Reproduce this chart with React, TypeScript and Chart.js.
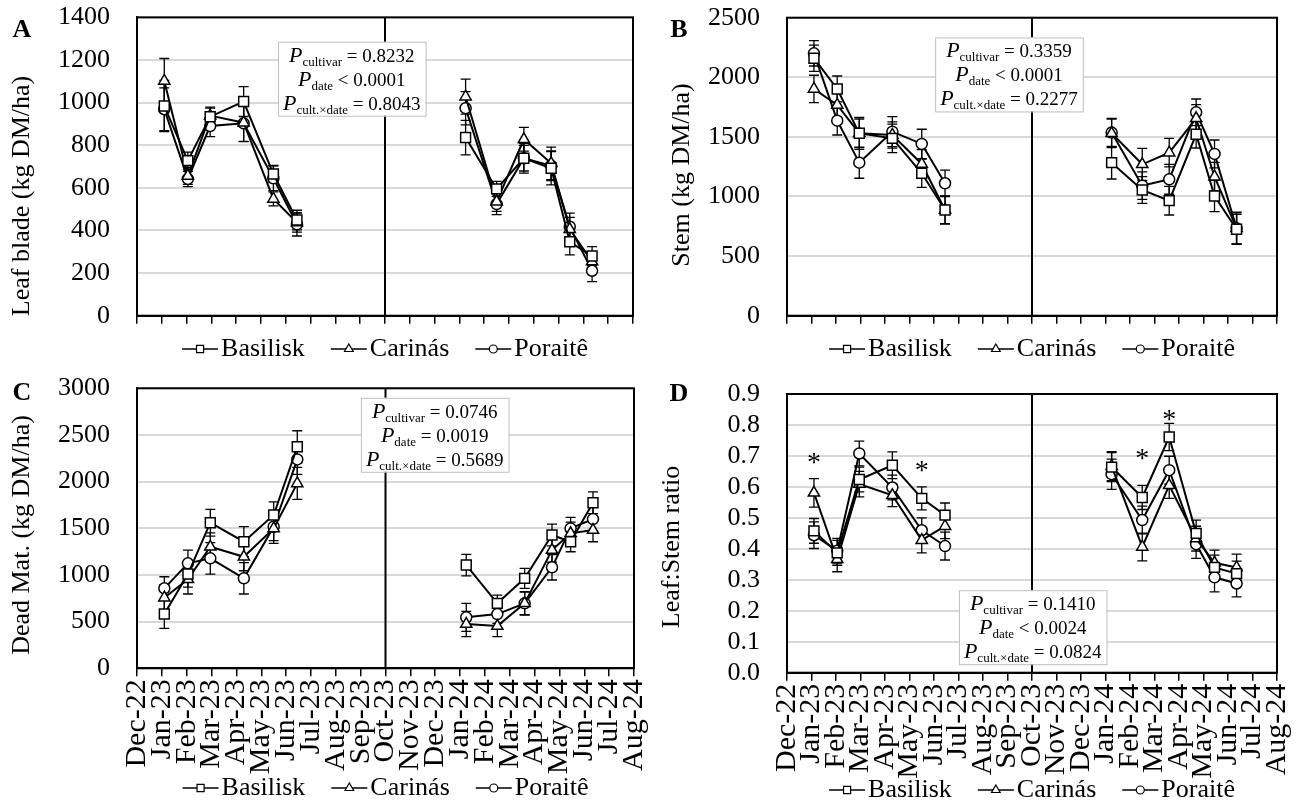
import React, { useEffect, useRef } from 'react';
import { Chart, registerables } from 'chart.js';

Chart.register(...registerables);

const FONT = "'Liberation Serif', 'Times New Roman', serif";

// ---------- categories / axis labels ----------
const monthLabels = [
  'Dec-22', 'Jan-23', 'Feb-23', 'Mar-23', 'Apr-23', 'May-23', 'Jun-23', 'Jul-23', 'Aug-23', 'Sep-23',
  'Oct-23', 'Nov-23', 'Dec-23', 'Jan-24', 'Feb-24', 'Mar-24', 'Apr-24', 'May-24', 'Jun-24', 'Jul-24', 'Aug-24',
];
const dividerMonth = 10; // Oct-23
// sampling dates, in months since Dec-22
const sampleDates = [1.1, 2.05, 2.95, 4.3, 5.5, 6.45, 13.25, 14.5, 15.6, 16.7, 17.45, 18.35];
const cultivars = ['Basilisk', 'Carinás', 'Poraitê'];
const markerStyles = ['rect', 'triangle', 'circle'];
const markerRadius = [7, 6.5, 5.5];

// ---------- A: leaf blade (kg DM/ha) ----------
const leafBasilisk = [984, 728, 934, 1005, 665, 449, 836, 595, 739, 692, 347, 280];
const leafCarinas = [1102, 656, 939, 906, 548, 437, 1028, 535, 828, 715, 406, 254];
const leafPoraite = [969, 642, 890, 903, 645, 429, 974, 524, 739, 704, 418, 211];
const leafErrBasilisk = [120, 40, 40, 70, 40, 46, 81, 35, 70, 78, 62, 44];
const leafErrCarinas = [105, 40, 40, 88, 33, 45, 82, 45, 56, 76, 55, 45];
const leafErrPoraite = [100, 36, 50, 86, 58, 55, 78, 50, 60, 70, 63, 51];
const leafStats = ['= 0.8232', '< 0.0001', '= 0.8043'];

// ---------- B: stem (kg DM/ha) ----------
const stemBasilisk = [2160, 1902, 1530, 1488, 1195, 887, 1284, 1055, 965, 1522, 1004, 725];
const stemCarinas = [1902, 1768, 1530, 1516, 1273, 887, 1530, 1270, 1368, 1656, 1166, 733];
const stemPoraite = [2201, 1636, 1284, 1544, 1441, 1111, 1536, 1091, 1144, 1706, 1357, 733];
const stemErrBasilisk = [110, 109, 120, 120, 118, 118, 137, 112, 120, 115, 131, 125];
const stemErrCarinas = [115, 110, 134, 110, 120, 115, 120, 134, 120, 115, 120, 130];
const stemErrPoraite = [106, 120, 131, 126, 123, 111, 120, 115, 125, 112, 117, 135];
const stemStats = ['= 0.3359', '< 0.0001', '= 0.2277'];

// ---------- C: dead material (kg DM/ha) ----------
const deadBasilisk = [581, 1010, 1560, 1356, 1642, 2373, 1106, 696, 964, 1428, 1356, 1774];
const deadCarinas = [756, 953, 1302, 1195, 1499, 1981, 474, 453, 696, 1267, 1446, 1481];
const deadPoraite = [857, 1125, 1178, 964, 1517, 2238, 546, 581, 696, 1082, 1499, 1599];
const deadErrBasilisk = [153, 140, 143, 161, 142, 172, 115, 89, 107, 117, 107, 117];
const deadErrCarinas = [140, 157, 150, 150, 160, 171, 135, 114, 125, 130, 120, 125];
const deadErrPoraite = [124, 142, 168, 168, 150, 160, 150, 100, 120, 136, 118, 130];
const deadStats = ['= 0.0746', '= 0.0019', '= 0.5689'];

// ---------- D: leaf:stem ratio ----------
const ratioBasilisk = [0.458, 0.387, 0.624, 0.67, 0.563, 0.509, 0.664, 0.566, 0.761, 0.45, 0.34, 0.32];
const ratioCarinas = [0.581, 0.366, 0.609, 0.573, 0.428, 0.473, 0.667, 0.406, 0.605, 0.433, 0.355, 0.34];
const ratioPoraite = [0.444, 0.394, 0.708, 0.598, 0.46, 0.409, 0.641, 0.493, 0.654, 0.415, 0.308, 0.288];
const ratioErrBasilisk = [0.04, 0.04, 0.04, 0.043, 0.037, 0.039, 0.047, 0.039, 0.044, 0.043, 0.04, 0.04];
const ratioErrCarinas = [0.046, 0.04, 0.041, 0.037, 0.041, 0.04, 0.047, 0.045, 0.042, 0.04, 0.041, 0.043];
const ratioErrPoraite = [0.043, 0.04, 0.04, 0.04, 0.04, 0.045, 0.049, 0.045, 0.045, 0.046, 0.047, 0.043];
const ratioStats = ['= 0.1410', '< 0.0024', '= 0.0824'];
const starDates = [1.1, 5.5, 14.5, 15.6];
const starValues = [0.695, 0.67, 0.708, 0.835];

const statSubs = ['cultivar', 'date', 'cult.×date'];

type PanelCfg = {
  letter: string;
  title: string;
  yMax: number;
  yStep: number;
  decimals: number;
  series: number[][];
  errors: number[][];
  stats: string[];
  statsAt: [number, number];
  showMonths: boolean;
  stars?: { x: number[]; y: number[] };
  padding: { top: number; right: number; bottom: number; left: number };
  xHeight: number;
  legendY: number;
  titleAt: [number, number];
  letterAt: [number, number];
  width: number;
  height: number;
  left: number;
  top: number;
};

function drawMarker(ctx: CanvasRenderingContext2D, style: string, x: number, y: number, r: number) {
  ctx.beginPath();
  if (style === 'rect') {
    const s = r * Math.SQRT1_2;
    ctx.rect(x - s, y - s, 2 * s, 2 * s);
  } else if (style === 'triangle') {
    for (let k = 0; k < 3; k++) {
      const ang = -Math.PI / 2 + (k * 2 * Math.PI) / 3;
      const px = x + Math.cos(ang) * r;
      const py = y + Math.sin(ang) * r;
      if (k === 0) ctx.moveTo(px, py);
      else ctx.lineTo(px, py);
    }
    ctx.closePath();
  } else {
    ctx.arc(x, y, r, 0, Math.PI * 2);
  }
  ctx.fill();
  ctx.stroke();
}

function makePlugin(cfg: PanelCfg) {
  return {
    id: 'decor' + cfg.letter,
    beforeDatasetsDraw(chart: any) {
      const { ctx, chartArea: a } = chart;
      const xs = chart.scales.x;
      const ys = chart.scales.y;
      ctx.save();
      const dx = xs.getPixelForValue(dividerMonth);
      ctx.strokeStyle = '#000';
      ctx.lineWidth = 2;
      ctx.beginPath();
      ctx.moveTo(dx, a.top);
      ctx.lineTo(dx, a.bottom);
      ctx.stroke();
      ctx.lineWidth = 1.3;
      cfg.series.forEach((vals, si) => {
        const errs = cfg.errors[si];
        vals.forEach((v, i) => {
          const px = xs.getPixelForValue(sampleDates[i]);
          const t = ys.getPixelForValue(v + errs[i]);
          const b = ys.getPixelForValue(v - errs[i]);
          ctx.beginPath();
          ctx.moveTo(px, t);
          ctx.lineTo(px, b);
          ctx.moveTo(px - 5, t);
          ctx.lineTo(px + 5, t);
          ctx.moveTo(px - 5, b);
          ctx.lineTo(px + 5, b);
          ctx.stroke();
        });
      });
      ctx.restore();
    },
    afterDatasetsDraw(chart: any) {
      const { ctx } = chart;
      const xs = chart.scales.x;
      const ys = chart.scales.y;
      ctx.save();
      // significance stars
      if (cfg.stars) {
        ctx.fillStyle = '#000';
        ctx.font = `28px ${FONT}`;
        ctx.textAlign = 'center';
        ctx.textBaseline = 'alphabetic';
        cfg.stars.x.forEach((sx, i) => {
          ctx.fillText('*', xs.getPixelForValue(sx), ys.getPixelForValue(cfg.stars!.y[i]) + 14);
        });
      }
      // statistics box
      const cx = xs.getPixelForValue(cfg.statsAt[0]);
      const cy = ys.getPixelForValue(cfg.statsAt[1]);
      const fP = `italic 22px ${FONT}`;
      const fSub = `13px ${FONT}`;
      const fMain = `19px ${FONT}`;
      const widths = cfg.stats.map((rest, i) => {
        ctx.font = fP;
        const a = ctx.measureText('P').width;
        ctx.font = fSub;
        const b = ctx.measureText(statSubs[i]).width;
        ctx.font = fMain;
        const c = ctx.measureText(' ' + rest).width;
        return { a, b, c, t: a + b + c };
      });
      const maxW = Math.max(...widths.map((w) => w.t));
      const bw = maxW + 10;
      const bh = 74;
      ctx.fillStyle = '#fff';
      ctx.fillRect(cx - bw / 2, cy - bh / 2, bw, bh);
      ctx.strokeStyle = '#bfbfbf';
      ctx.lineWidth = 1;
      ctx.strokeRect(cx - bw / 2 + 0.5, cy - bh / 2 + 0.5, bw, bh);
      ctx.fillStyle = '#000';
      ctx.textAlign = 'left';
      ctx.textBaseline = 'alphabetic';
      cfg.stats.forEach((rest, i) => {
        const w = widths[i];
        let x = cx - w.t / 2;
        const base = cy + (i - 1) * 24 + 7;
        ctx.font = fP;
        ctx.fillText('P', x, base);
        x += w.a;
        ctx.font = fSub;
        ctx.fillText(statSubs[i], x, base + 4);
        x += w.b;
        ctx.font = fMain;
        ctx.fillText(' ' + rest, x, base);
      });
      ctx.restore();
    },
    afterDraw(chart: any) {
      const { ctx, chartArea: a } = chart;
      ctx.save();
      // plot frame
      ctx.strokeStyle = '#000';
      ctx.lineWidth = 2;
      ctx.strokeRect(a.left, a.top, a.right - a.left, a.bottom - a.top);
      // legend
      ctx.font = `26px ${FONT}`;
      const symW = 36;
      const gap = 3;
      const itemGap = 26;
      const tw = cultivars.map((c) => ctx.measureText(c).width);
      const total = tw.reduce((s, w) => s + symW + gap + w, 0) + itemGap * (cultivars.length - 1);
      let x = (a.left + a.right) / 2 - total / 2;
      const ly = cfg.legendY;
      cultivars.forEach((c, i) => {
        ctx.strokeStyle = '#000';
        ctx.lineWidth = 1.5;
        ctx.beginPath();
        ctx.moveTo(x, ly);
        ctx.lineTo(x + symW, ly);
        ctx.stroke();
        ctx.fillStyle = '#fff';
        ctx.lineWidth = 1.2;
        drawMarker(ctx, markerStyles[i], x + symW / 2, ly, i === 2 ? 4 : 5);
        ctx.fillStyle = '#000';
        ctx.textAlign = 'left';
        ctx.textBaseline = 'middle';
        ctx.font = `26px ${FONT}`;
        ctx.fillText(c, x + symW + gap, ly);
        x += symW + gap + tw[i] + itemGap;
      });
      // y-axis title
      ctx.save();
      ctx.translate(cfg.titleAt[0], cfg.titleAt[1]);
      ctx.rotate(-Math.PI / 2);
      ctx.textAlign = 'center';
      ctx.textBaseline = 'middle';
      ctx.font = `26px ${FONT}`;
      ctx.fillText(cfg.title, 0, 0);
      ctx.restore();
      // panel letter
      ctx.font = `bold 26px ${FONT}`;
      ctx.textAlign = 'center';
      ctx.textBaseline = 'middle';
      ctx.fillText(cfg.letter, cfg.letterAt[0], cfg.letterAt[1]);
      ctx.restore();
    },
  };
}

function buildData(values: number[]) {
  const out: { x: number; y: number | null }[] = [];
  sampleDates.forEach((d, i) => {
    out.push({ x: d, y: values[i] });
    if (i === 5) out.push({ x: dividerMonth, y: null });
  });
  return out;
}

function Panel({ cfg }: { cfg: PanelCfg }) {
  const ref = useRef<HTMLCanvasElement>(null);
  useEffect(() => {
    const canvas = ref.current!;
    const chart = new Chart(canvas, {
      type: 'line',
      data: {
        datasets: cfg.series.map((vals, i) => ({
          label: cultivars[i],
          data: buildData(vals),
          borderColor: '#000',
          borderWidth: 2,
          backgroundColor: '#fff',
          pointStyle: markerStyles[i] as any,
          pointRadius: markerRadius[i],
          pointBackgroundColor: '#fff',
          pointBorderColor: '#000',
          pointBorderWidth: 1.5,
          tension: 0,
          spanGaps: false,
        })),
      },
      options: {
        responsive: false,
        animation: false,
        devicePixelRatio: 1,
        layout: { padding: cfg.padding },
        plugins: { legend: { display: false }, tooltip: { enabled: false } },
        scales: {
          x: {
            type: 'linear',
            min: 0,
            max: 20,
            afterFit: (s: any) => {
              s.height = cfg.xHeight;
              s.paddingLeft = 0;
              s.paddingRight = 0;
            },
            border: { display: true, color: '#000', width: 2 },
            grid: { display: true, drawOnChartArea: false, drawTicks: true, tickLength: 8, color: '#000', lineWidth: 1.5 },
            ticks: {
              stepSize: 1,
              autoSkip: false,
              minRotation: cfg.showMonths ? 90 : 0,
              maxRotation: cfg.showMonths ? 90 : 0,
              padding: 3,
              color: '#000',
              font: { family: FONT, size: 30 },
              callback: (v: any) => (cfg.showMonths ? monthLabels[Math.round(Number(v))] : ''),
            },
          },
          y: {
            type: 'linear',
            min: 0,
            max: cfg.yMax,
            afterFit: (s: any) => {
              s.width = 137;
              s.paddingTop = 0;
              s.paddingBottom = 0;
            },
            border: { display: true, color: '#000', width: 2 },
            grid: { color: '#d9d9d9', lineWidth: 2, drawTicks: false },
            ticks: {
              stepSize: cfg.yStep,
              autoSkip: false,
              padding: 27,
              color: '#000',
              font: { family: FONT, size: 26 },
              callback: (v: any) => Number(v).toFixed(cfg.decimals),
            },
          },
        },
      } as any,
      plugins: [makePlugin(cfg)],
    });
    return () => chart.destroy();
  }, [cfg]);
  return (
    <canvas
      ref={ref}
      width={cfg.width}
      height={cfg.height}
      style={{ position: 'absolute', left: cfg.left, top: cfg.top, width: cfg.width, height: cfg.height }}
    />
  );
}

const panels: PanelCfg[] = [
  {
    letter: 'A',
    title: 'Leaf blade (kg DM/ha)',
    yMax: 1400,
    yStep: 200,
    decimals: 0,
    series: [leafBasilisk, leafCarinas, leafPoraite],
    errors: [leafErrBasilisk, leafErrCarinas, leafErrPoraite],
    stats: leafStats,
    statsAt: [8.66, 1112],
    showMonths: false,
    padding: { top: 17.4, right: 17, bottom: 46.3, left: 0 },
    xHeight: 10,
    legendY: 349,
    titleAt: [22, 196],
    letterAt: [22, 30],
    width: 650,
    height: 372,
    left: 0,
    top: 0,
  },
  {
    letter: 'B',
    title: 'Stem (kg DM/ha)',
    yMax: 2500,
    yStep: 500,
    decimals: 0,
    series: [stemBasilisk, stemCarinas, stemPoraite],
    errors: [stemErrBasilisk, stemErrCarinas, stemErrPoraite],
    stats: stemStats,
    statsAt: [9.06, 2024],
    showMonths: false,
    padding: { top: 17.7, right: 23, bottom: 46.3, left: 0 },
    xHeight: 10,
    legendY: 349,
    titleAt: [32, 175],
    letterAt: [29, 30],
    width: 650,
    height: 372,
    left: 650,
    top: 0,
  },
  {
    letter: 'C',
    title: 'Dead Mat. (kg DM/ha)',
    yMax: 3000,
    yStep: 500,
    decimals: 0,
    series: [deadBasilisk, deadCarinas, deadPoraite],
    errors: [deadErrBasilisk, deadErrCarinas, deadErrPoraite],
    stats: deadStats,
    statsAt: [11.98, 2502],
    showMonths: true,
    padding: { top: 18.3, right: 16, bottom: 27.7, left: 0 },
    xHeight: 110,
    legendY: 418,
    titleAt: [22, 165],
    letterAt: [22, 23],
    width: 650,
    height: 436,
    left: 0,
    top: 370,
  },
  {
    letter: 'D',
    title: 'Leaf:Stem ratio',
    yMax: 0.9,
    yStep: 0.1,
    decimals: 1,
    series: [ratioBasilisk, ratioCarinas, ratioPoraite],
    errors: [ratioErrBasilisk, ratioErrCarinas, ratioErrPoraite],
    stats: ratioStats,
    statsAt: [10.03, 0.147],
    showMonths: true,
    stars: { x: starDates, y: starValues },
    padding: { top: 24, right: 23, bottom: 23.3, left: 0 },
    xHeight: 110,
    legendY: 420,
    titleAt: [22, 177],
    letterAt: [29, 24],
    width: 650,
    height: 436,
    left: 650,
    top: 370,
  },
];

export default function App() {
  return (
    <div style={{ position: 'fixed', left: 0, top: 0, width: 1300, height: 806, background: '#fff', overflow: 'hidden' }}>
      {panels.map((p) => (
        <Panel key={p.letter} cfg={p} />
      ))}
    </div>
  );
}
